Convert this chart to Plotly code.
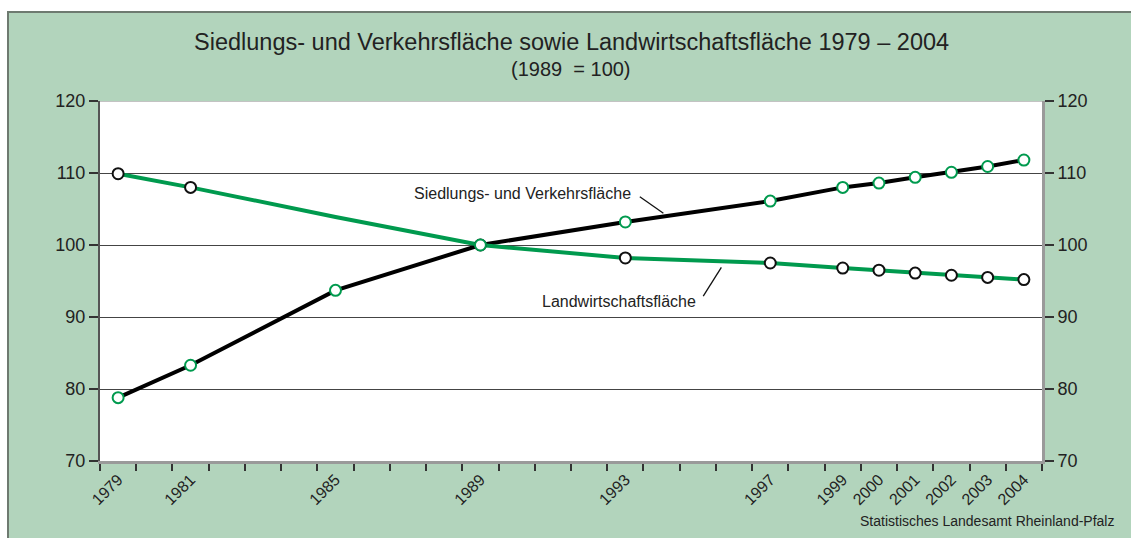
import plotly.graph_objects as go

# ---- data ----
years = [1979, 1981, 1985, 1989, 1993, 1997, 1999, 2000, 2001, 2002, 2003, 2004]
siedlung = [78.8, 83.3, 93.7, 100.0, 103.2, 106.1, 108.0, 108.6, 109.4, 110.1, 110.9, 111.8]
landw = [109.9, 108.0, 103.9, 100.0, 98.2, 97.5, 96.8, 96.5, 96.1, 95.8, 95.5, 95.2]
landw_marked = [True, True, False, True, True, True, True, True, True, True, True, True]
tick_years = [1979, 1981, 1985, 1989, 1993, 1997, 1999, 2000, 2001, 2002, 2003, 2004]
tick_text = [str(y) for y in tick_years]
y_ticks = [70, 80, 90, 100, 110, 120]

title = "Siedlungs- und Verkehrsfläche sowie Landwirtschaftsfläche 1979 – 2004"
subtitle = "(1989  = 100)"
label_s = "Siedlungs- und Verkehrsfläche"
label_l = "Landwirtschaftsfläche"
source = "Statistisches Landesamt Rheinland-Pfalz"

GREEN = "#009a4e"
BG = "#b2d4bc"
FONT = "Liberation Sans, Arial, sans-serif"
TXT = "#222222"

fig = go.Figure()

fig.add_trace(go.Scatter(x=years, y=siedlung, mode="lines",
                         line=dict(color="#000000", width=4), showlegend=False,
                         hoverinfo="skip"))
fig.add_trace(go.Scatter(x=years, y=landw, mode="lines",
                         line=dict(color=GREEN, width=4), showlegend=False,
                         hoverinfo="skip"))
lx = [x for x, m in zip(years, landw_marked) if m]
ly = [v for v, m in zip(landw, landw_marked) if m]
fig.add_trace(go.Scatter(x=lx, y=ly, mode="markers",
                         marker=dict(symbol="circle", size=11, color="white",
                                     line=dict(color="#111111", width=2)),
                         showlegend=False))
fig.add_trace(go.Scatter(x=years, y=siedlung, mode="markers",
                         marker=dict(symbol="circle", size=11, color="white",
                                     line=dict(color=GREEN, width=2)),
                         showlegend=False))
# invisible trace for right axis
fig.add_trace(go.Scatter(x=[years[0]], y=[siedlung[0]], yaxis="y2", mode="markers",
                         marker=dict(opacity=0), showlegend=False, hoverinfo="skip"))

W, H = 1131, 538
L, R, T, B = 100, 89, 101, 77
pw, ph = W - L - R, H - T - B

def px_x(p):
    return (p - L) / pw

def px_y(p):
    return (H - B - p) / ph

shapes = [
    dict(type="rect", xref="paper", yref="paper", layer="below",
         x0=px_x(8), x1=px_x(W + 20), y0=px_y(H + 20), y1=px_y(12),
         fillcolor=BG, line=dict(color="#6e7a70", width=2)),
    dict(type="rect", xref="paper", yref="paper", layer="below",
         x0=0, x1=1, y0=0, y1=1, fillcolor="white", line=dict(width=0)),
    dict(type="line", xref="paper", yref="y", x0=0, x1=1, y0=120, y1=120,
         line=dict(color="#888888", width=1)),
    # leader lines
    dict(type="line", xref="x", yref="y", x0=1993.4, y0=106.7, x1=1994.05, y1=104.4,
         line=dict(color="#111111", width=1.3)),
    dict(type="line", xref="x", yref="y", x0=1995.15, y0=92.9, x1=1995.65, y1=96.9,
         line=dict(color="#111111", width=1.3)),
]

annotations = [
    dict(text=title, xref="paper", yref="paper", x=0.5, y=px_y(42),
         showarrow=False, xanchor="center", yanchor="middle",
         font=dict(family=FONT, size=23.5, color=TXT)),
    dict(text=subtitle, xref="paper", yref="paper", x=0.5, y=px_y(69),
         showarrow=False, xanchor="center", yanchor="middle",
         font=dict(family=FONT, size=20, color=TXT)),
    dict(text=label_s, xref="x", yref="y", x=1993.2, y=107.2,
         showarrow=False, xanchor="right", yanchor="middle",
         font=dict(family=FONT, size=16, color=TXT)),
    dict(text=label_l, xref="x", yref="y", x=1995.0, y=92.15,
         showarrow=False, xanchor="right", yanchor="middle",
         font=dict(family=FONT, size=16, color=TXT)),
    dict(text=source, xref="paper", yref="paper", x=px_x(1116), y=px_y(521),
         showarrow=False, xanchor="right", yanchor="middle",
         font=dict(family=FONT, size=14, color=TXT)),
]

fig.update_layout(
    width=W, height=H,
    margin=dict(l=L, r=R, t=T, b=B, pad=0),
    paper_bgcolor="white",
    plot_bgcolor="white",
    font=dict(family=FONT, size=15, color=TXT),
    shapes=shapes,
    annotations=annotations,
    xaxis=dict(
        range=[1978.5, 2004.5], tickmode="array", tickvals=tick_years,
        ticktext=tick_text, tickangle=-45, ticks="", showgrid=False,
        zeroline=False, showline=True, linecolor="#9a9a9a", linewidth=3,
        tickfont=dict(family=FONT, size=16, color=TXT),
        minor=dict(tick0=1978.5, dtick=1, ticks="outside", ticklen=7,
                   tickcolor="#333333", tickwidth=1.5, showgrid=False),
    ),
    yaxis=dict(
        range=[70, 120], tickmode="array", tickvals=y_ticks,
        ticks="outside", ticklen=9, tickcolor="#333333", tickwidth=1.5,
        showgrid=True, gridcolor="#444444", gridwidth=1.3,
        zeroline=False, showline=True, linecolor="#555555", linewidth=2,
        tickfont=dict(family=FONT, size=18, color=TXT),
    ),
    yaxis2=dict(
        range=[70, 120], overlaying="y", side="right", tickmode="array",
        tickvals=y_ticks, ticks="outside", ticklen=9, tickcolor="#333333",
        tickwidth=1.5, showgrid=False, zeroline=False, showline=True,
        linecolor="#9a9a9a", linewidth=3,
        tickfont=dict(family=FONT, size=18, color=TXT),
    ),
)

fig.write_html(
    "out.html",
    config={"displayModeBar": False},
    post_script="document.body.style.margin='0';document.body.style.overflow='hidden';",
)
